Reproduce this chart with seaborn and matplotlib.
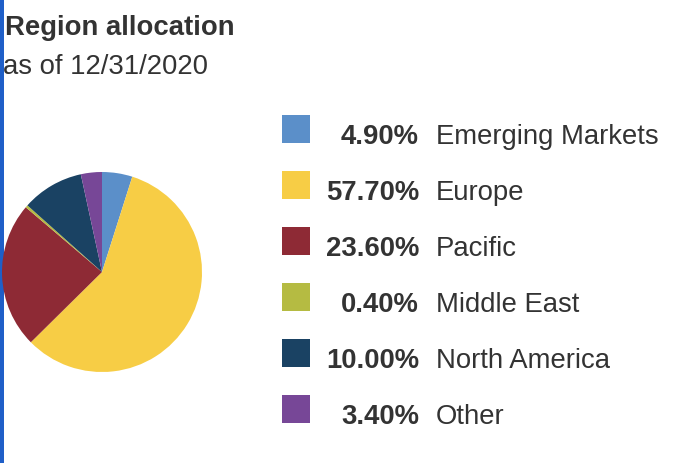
import matplotlib.pyplot as plt
import seaborn as sns
from matplotlib.patches import Rectangle

regions = ['Emerging Markets', 'Europe', 'Pacific', 'Middle East', 'North America', 'Other']
weights = [4.90, 57.70, 23.60, 0.40, 10.00, 3.40]
colors = ['#5b8fc9', '#f7cd45', '#8e2a35', '#b5bb42', '#1a4263', '#774797']

title = 'Region allocation'
subtitle = 'as of 12/31/2020'

sns.set_theme(style='white')
plt.rcParams['font.family'] = ['Liberation Sans', 'DejaVu Sans']
text_color = '#333333'
fs = 19.8

W, H = 678, 464
fig = plt.figure(figsize=(W / 100, H / 100), dpi=100)

# overlay axes in pixel coordinates (y down) for title, legend and side bar
over = fig.add_axes([0, 0, 1, 1])
over.set_xlim(0, W)
over.set_ylim(H, 0)
over.axis('off')

over.add_patch(Rectangle((0, 0), 4, H, color='#1f5fc8', lw=0))
over.text(5, 35, title, fontsize=fs, fontweight='bold', color=text_color, va='baseline')
over.text(3, 74, subtitle, fontsize=fs, color=text_color, va='baseline')

# pie
cx, cy, r = 102, 273, 100
ax = fig.add_axes([(cx - r) / W, (H - cy - r) / H, 2 * r / W, 2 * r / H])
ax.pie(weights, colors=sns.color_palette(colors), startangle=90, counterclock=False,
       radius=1, wedgeprops=dict(linewidth=0))
ax.set_xlim(-1, 1)
ax.set_ylim(-1, 1)

# legend
for i, (name, w, c) in enumerate(zip(regions, weights, colors)):
    top = 116 + 56 * i
    over.add_patch(Rectangle((282, top), 28, 28, color=c, lw=0))
    over.text(419, top + 28, f'{w:.2f}%', fontsize=fs, fontweight='bold',
              color=text_color, ha='right', va='baseline')
    over.text(436, top + 28, name, fontsize=fs, color=text_color, va='baseline')

fig.savefig('out.png', dpi=100)
